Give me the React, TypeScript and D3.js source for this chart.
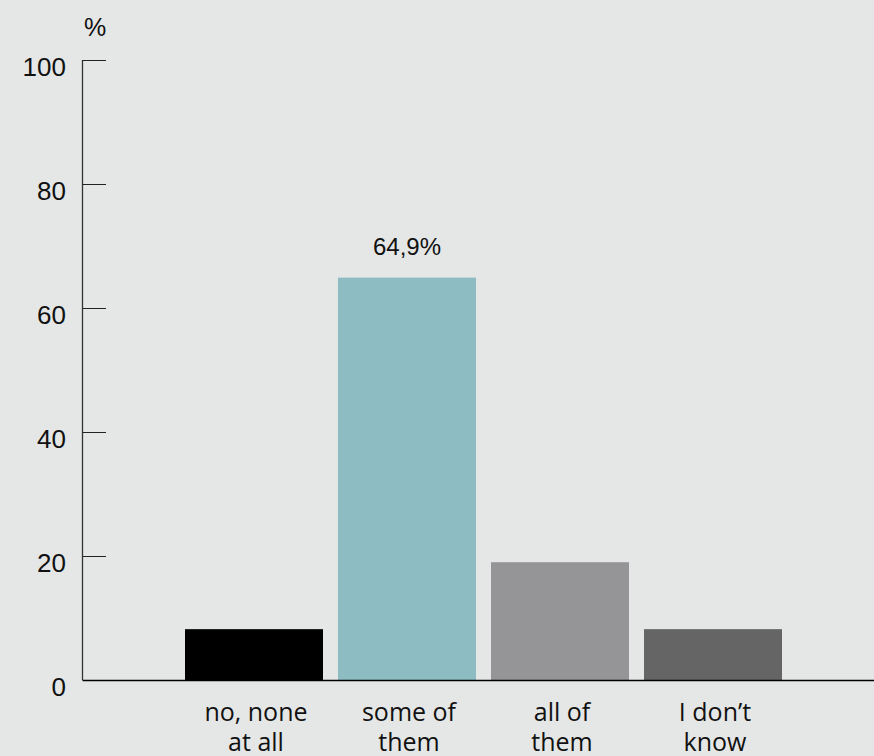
import React from "react";
import * as d3 from "d3";

const categories = ["no, none|at all", "some of|them", "all of|them", "I don’t|know"];
const values = [8.2, 64.9, 19.0, 8.2];
const colors = ["#000000", "#8dbdc2", "#959598", "#656566"];
const yTicks = [0, 20, 40, 60, 80, 100];
const valueLabels = ["", "64,9%", "", ""];

const W = 874;
const H = 756;

export default function App() {
  const y = d3.scaleLinear().domain([0, 100]).range([680, 60]);
  const x = d3
    .scaleBand<string>()
    .domain(categories)
    .range([177.5, 789.5])
    .paddingInner(15 / 153)
    .paddingOuter(15 / 153 / 2);
  const axisX = 82.5;
  const sans = "Liberation Sans, Arial, sans-serif";
  return (
    <svg
      width={W}
      height={H}
      style={{ position: "fixed", top: 0, left: 0, display: "block" }}
    >
      <rect x={0} y={0} width={W} height={H} fill="#e5e7e6" />
      <text x={95} y={36} fontSize={25} fontFamily={sans} textAnchor="middle" fill="#111">%</text>
      {categories.map((c, i) => (
        <rect
          key={c}
          x={x(c)}
          y={y(values[i])}
          width={x.bandwidth()}
          height={y(0) - y(values[i])}
          fill={colors[i]}
        />
      ))}
      <line x1={axisX} x2={axisX} y1={y(100)} y2={y(0)} stroke="#333" strokeWidth={1.3} />
      <line x1={axisX} x2={W} y1={y(0) + 0.5} y2={y(0) + 0.5} stroke="#000" strokeWidth={1.3} />
      {yTicks.map((t) => (
        <g key={t}>
          {t > 0 && (
            <line x1={axisX} x2={106} y1={y(t) + 0.5} y2={y(t) + 0.5} stroke="#222" strokeWidth={1} />
          )}
          <text
            x={66}
            y={y(t) + 16}
            fontSize={26}
            fontFamily={sans}
            textAnchor="end"
            fill="#111"
          >
            {t}
          </text>
        </g>
      ))}
      {categories.map((c, i) =>
        valueLabels[i] ? (
          <text
            key={"v" + c}
            x={(x(c) as number) + x.bandwidth() / 2}
            y={y(values[i]) - 23}
            fontSize={24}
            fontFamily={sans}
            textAnchor="middle"
            fill="#111"
          >
            {valueLabels[i]}
          </text>
        ) : null
      )}
      {categories.map((c) => {
        const lines = c.split("|");
        const cx = (x(c) as number) + x.bandwidth() / 2 + 2;
        return (
          <text
            key={"c" + c}
            x={cx}
            y={721}
            fontSize={25}
            fontFamily="Open Sans, sans-serif"
            textAnchor="middle"
            fill="#111"
          >
            {lines.map((l, k) => (
              <tspan key={k} x={cx} dy={k === 0 ? 0 : 30}>
                {l}
              </tspan>
            ))}
          </text>
        );
      })}
    </svg>
  );
}
